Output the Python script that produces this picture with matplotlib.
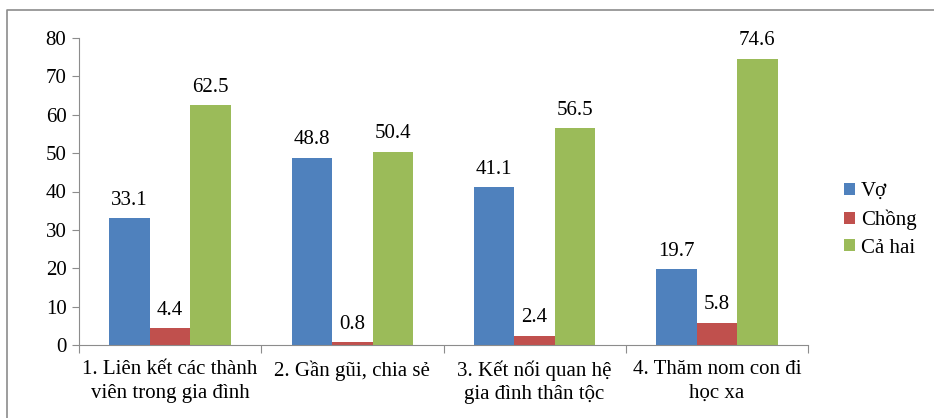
import matplotlib
matplotlib.use("Agg")
import matplotlib.pyplot as plt
import numpy as np
from matplotlib.lines import Line2D

plt.rcParams['font.family'] = ['Liberation Serif', 'DejaVu Serif']

categories = ["1. Liên kết các thành\nviên trong gia đình",
              "2. Gần gũi, chia sẻ",
              "3. Kết nối quan hệ\ngia đình thân tộc",
              "4. Thăm nom con đi\nhọc xa"]
series_names = ["Vợ", "Chồng", "Cả hai"]
vo = [33.1, 48.8, 41.1, 19.7]
chong = [4.4, 0.8, 2.4, 5.8]
ca_hai = [62.5, 50.4, 56.5, 74.6]
colors = ["#4F81BD", "#C0504D", "#9BBB59"]

FS = 15

fig = plt.figure(figsize=(9.34, 4.18), dpi=100)
W, H = 934, 418
ax = fig.add_axes([79 / W, 1 - 345 / H, (808 - 79) / W, (345 - 38) / H])

# chart-area frame (top and left edges)
fig.lines.append(Line2D([7 / W, 7 / W, 1.0], [0.0, 1 - 10 / H, 1 - 10 / H],
                        transform=fig.transFigure, color="#8c8c8c", linewidth=1.2))

x = np.arange(len(categories))
bw = 1 / 4.5
for i, (vals, name, c) in enumerate(zip([vo, chong, ca_hai], series_names, colors)):
    pos = x + (i - 1) * bw
    ax.bar(pos, vals, width=bw, color=c, label=name, linewidth=0)
    for p, v in zip(pos, vals):
        ax.annotate(f"{v}", (p, v), xytext=(0, 6), textcoords="offset points",
                    ha="center", va="bottom", fontsize=FS)

ax.set_xlim(-0.5, len(categories) - 0.5)
ax.set_ylim(0, 80)
ax.set_yticks(range(0, 81, 10))
ax.tick_params(axis='y', length=5, color="#8c8c8c", labelsize=FS, pad=4)
ax.set_xticks(np.arange(-0.5, len(categories), 1), minor=False)
ax.set_xticklabels([])
ax.tick_params(axis='x', length=6, color="#8c8c8c")
ax.set_xticks(x, minor=True)
ax.set_xticklabels(categories, minor=True, fontsize=FS, linespacing=1.32)
ax.tick_params(axis='x', which='minor', length=0, pad=11)

for s in ["top", "right"]:
    ax.spines[s].set_visible(False)
for s in ["left", "bottom"]:
    ax.spines[s].set_color("#8c8c8c")

fig.legend(loc="upper left", bbox_to_anchor=(836 / W, 1 - 174 / H), frameon=False,
           fontsize=FS, handlelength=0.5, handleheight=0.5, handletextpad=0.3,
           labelspacing=0.4, borderaxespad=0)

fig.savefig("out.png", dpi=100)
